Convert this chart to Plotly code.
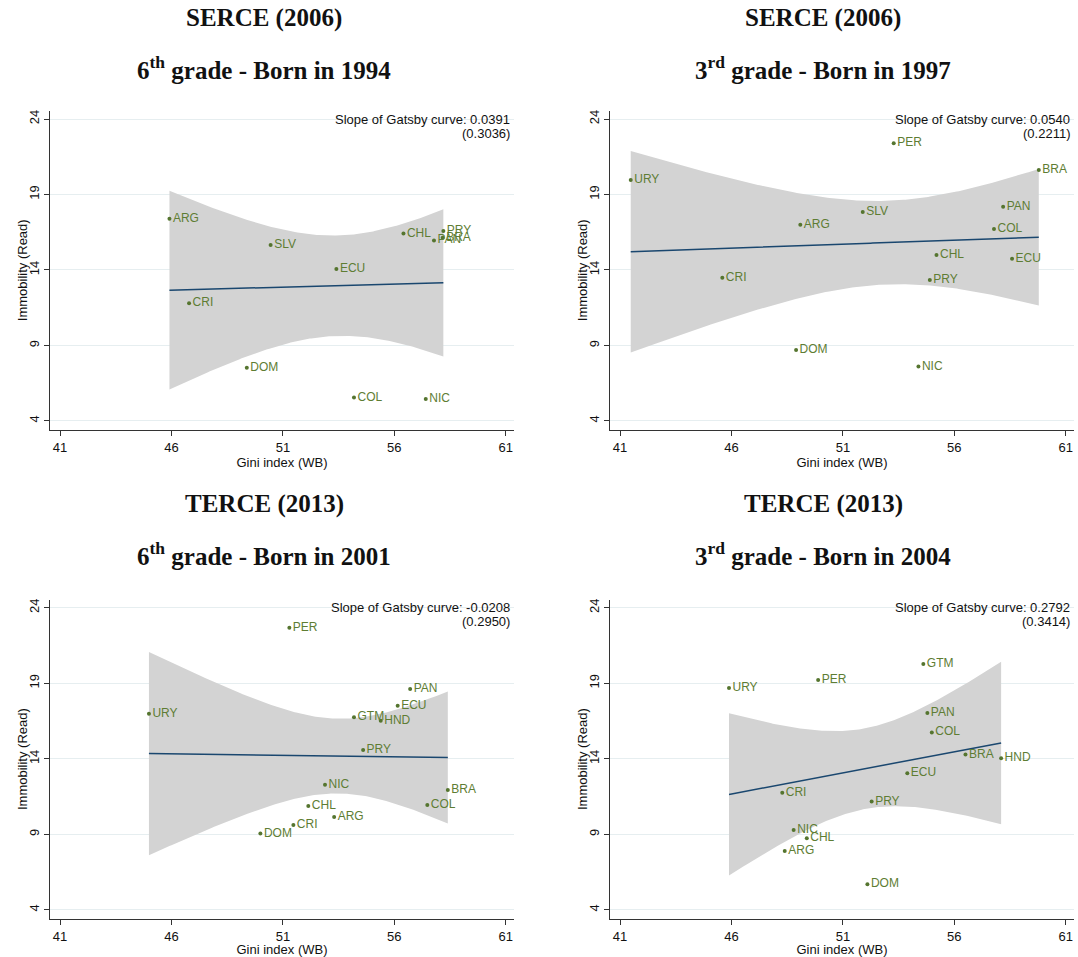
import numpy as np
import plotly.graph_objects as go

# ---------------- DATA ----------------
# Panel 1: SERCE (2006), 6th grade - born 1994
p1_country = ["ARG", "SLV", "CHL", "PRY", "BRA", "PAN", "ECU", "CRI", "DOM", "COL", "NIC"]
p1_gini = [45.91, 50.45, 56.41, 58.20, 58.17, 57.78, 53.40, 46.79, 49.38, 54.19, 57.41]
p1_immob = [17.40, 15.66, 16.41, 16.58, 16.14, 15.96, 14.07, 11.79, 7.53, 5.55, 5.46]

# Panel 2: SERCE (2006), 3rd grade - born 1997
p2_country = ["URY", "PER", "BRA", "PAN", "SLV", "ARG", "COL", "CHL", "ECU", "CRI", "PRY", "DOM", "NIC"]
p2_gini = [41.48, 53.28, 59.79, 58.19, 51.89, 49.09, 57.78, 55.20, 58.59, 45.59, 54.90, 48.90, 54.39]
p2_immob = [19.96, 22.39, 20.62, 18.19, 17.84, 17.00, 16.72, 14.99, 14.75, 13.49, 13.34, 8.70, 7.60]

# Panel 3: TERCE (2013), 6th grade - born 2001
p3_country = ["PER", "PAN", "ECU", "URY", "GTM", "HND", "PRY", "NIC", "BRA", "CHL", "COL", "ARG", "CRI", "DOM"]
p3_gini = [51.29, 56.71, 56.15, 44.99, 54.19, 55.39, 54.60, 52.89, 58.40, 52.14, 57.48, 53.30, 51.47, 49.99]
p3_immob = [22.68, 18.62, 17.52, 16.99, 16.75, 16.52, 14.58, 12.29, 11.94, 10.88, 10.95, 10.15, 9.62, 9.05]

# Panel 4: TERCE (2013), 3rd grade - born 2004
p4_country = ["GTM", "PER", "URY", "PAN", "COL", "BRA", "HND", "ECU", "CRI", "PRY", "NIC", "CHL", "ARG", "DOM"]
p4_gini = [54.61, 49.89, 45.89, 54.79, 54.99, 56.50, 58.10, 53.89, 48.28, 52.29, 48.79, 49.38, 48.39, 52.10]
p4_immob = [20.27, 19.21, 18.69, 17.03, 15.75, 14.28, 14.03, 13.04, 11.76, 11.17, 9.29, 8.74, 7.90, 5.70]

panel_survey = ["SERCE (2006)", "SERCE (2006)", "TERCE (2013)", "TERCE (2013)"]
panel_grade = ["6<sup>th</sup> grade - Born in 1994", "3<sup>rd</sup> grade - Born in 1997",
               "6<sup>th</sup> grade - Born in 2001", "3<sup>rd</sup> grade - Born in 2004"]
slope_text = ["0.0391", "0.0540", "-0.0208", "0.2792"]
se_text = ["(0.3036)", "(0.2211)", "(0.2950)", "(0.3414)"]

x_ticks = [41, 46, 51, 56, 61]
y_ticks = [4, 9, 14, 19, 24]

# t critical values (97.5%) by degrees of freedom
T975 = {9: 2.262, 10: 2.228, 11: 2.201, 12: 2.179, 13: 2.160}

# ---------------- LAYOUT GEOMETRY ----------------
W, H = 1078, 957
col_px = [(50, 514), (610, 1074)]
row_px = [(111, 430), (599.7, 919)]
ytitle_px = [22.7, 582.7]
title_x = [264, 823]
title_y1 = [18, 504]
title_y2 = [68, 554]

NAVY = "#1a476f"
GREEN = "#55752f"
BAND = "#d3d3d3"
GRID = "#e6eef0"
AXIS = "#333333"
SANS = "Liberation Sans, Arial, sans-serif"
SERIF = "Palatino Linotype, Book Antiqua, Liberation Serif, serif"

panels = [
    (p1_country, p1_gini, p1_immob),
    (p2_country, p2_gini, p2_immob),
    (p3_country, p3_gini, p3_immob),
    (p4_country, p4_gini, p4_immob),
]

fig = go.Figure()
annotations = []
layout_axes = {}

for i, (cty, gx, gy) in enumerate(panels):
    r, c = divmod(i, 2)
    k = i + 1
    xa = "x" if k == 1 else f"x{k}"
    ya = "y" if k == 1 else f"y{k}"
    x = np.array(gx, dtype=float)
    y = np.array(gy, dtype=float)
    n = len(x)
    xbar, ybar = x.mean(), y.mean()
    sxx = ((x - xbar) ** 2).sum()
    b = ((x - xbar) * (y - ybar)).sum() / sxx
    a = ybar - b * xbar
    resid = y - (a + b * x)
    s = np.sqrt((resid ** 2).sum() / (n - 2))
    xs = np.linspace(x.min(), x.max(), 200)
    yhat = a + b * xs
    se = s * np.sqrt(1.0 / n + (xs - xbar) ** 2 / sxx)
    t = T975[n - 2]
    lo, hi = yhat - t * se, yhat + t * se

    fig.add_trace(go.Scatter(
        x=np.concatenate([xs, xs[::-1]]), y=np.concatenate([hi, lo[::-1]]),
        fill="toself", fillcolor=BAND, line=dict(width=0), mode="lines",
        xaxis=xa, yaxis=ya, showlegend=False, hoverinfo="skip"))
    fig.add_trace(go.Scatter(
        x=xs, y=yhat, mode="lines", line=dict(color=NAVY, width=1.5),
        xaxis=xa, yaxis=ya, showlegend=False))
    fig.add_trace(go.Scatter(
        x=x, y=y, mode="markers+text", text=cty, textposition="middle right",
        marker=dict(color=GREEN, size=4),
        textfont=dict(family=SANS, size=12, color="#5e7d33"),
        xaxis=xa, yaxis=ya, showlegend=False, cliponaxis=False))

    x0, x1 = col_px[c]
    y0, y1 = row_px[r]
    xkey = "xaxis" if k == 1 else f"xaxis{k}"
    ykey = "yaxis" if k == 1 else f"yaxis{k}"
    layout_axes[xkey] = dict(
        domain=[x0 / W, x1 / W], anchor=ya, range=[40.55, 61.37],
        tickvals=x_ticks, ticktext=[str(v) for v in x_ticks],
        showgrid=False, zeroline=False, showline=True, linecolor=AXIS, linewidth=1,
        ticks="outside", ticklen=5, tickcolor=AXIS, tickwidth=1,
        tickfont=dict(family=SANS, size=13, color="#111111"),
        title=dict(text="Gini index (WB)", standoff=0,
                   font=dict(family=SANS, size=13, color="#111111")),
    )
    layout_axes[ykey] = dict(
        domain=[1 - y1 / H, 1 - y0 / H], anchor=xa, range=[3.4, 24.53],
        tickvals=y_ticks, ticktext=[str(v) for v in y_ticks], tickangle=-90,
        showgrid=True, gridcolor=GRID, gridwidth=1, zeroline=False,
        showline=True, linecolor=AXIS, linewidth=1,
        ticks="outside", ticklen=5, tickcolor=AXIS, tickwidth=1,
        tickfont=dict(family=SANS, size=13, color="#111111"),
    )
    # y-axis title
    annotations.append(dict(
        xref="paper", yref="paper", x=ytitle_px[c] / W, y=1 - (y0 + y1) / 2 / H,
        xanchor="center", yanchor="middle", textangle=-90, showarrow=False,
        text="Immobility (Read)", font=dict(family=SANS, size=13, color="#111111")))

    # slope annotations
    annotations.append(dict(
        xref=f"{xa} domain", yref=ya, x=0.995, y=24, xanchor="right", yanchor="middle",
        text=f"Slope of Gatsby curve: {slope_text[i]}", showarrow=False,
        font=dict(family=SANS, size=13, color="#111111")))
    annotations.append(dict(
        xref=f"{xa} domain", yref=ya, x=0.995, y=24, yshift=-14, xanchor="right", yanchor="middle",
        text=se_text[i], showarrow=False,
        font=dict(family=SANS, size=13, color="#111111")))
    # titles
    annotations.append(dict(
        xref="paper", yref="paper", x=title_x[c] / W, y=1 - title_y1[r] / H,
        xanchor="center", yanchor="middle", showarrow=False,
        text=f"<b>{panel_survey[i]}</b>",
        font=dict(family=SERIF, size=25, color="#111111")))
    annotations.append(dict(
        xref="paper", yref="paper", x=title_x[c] / W, y=1 - title_y2[r] / H,
        xanchor="center", yanchor="middle", showarrow=False,
        text=f"<b>{panel_grade[i]}</b>",
        font=dict(family=SERIF, size=25, color="#111111")))

fig.update_layout(
    width=W, height=H, margin=dict(l=0, r=0, t=0, b=0),
    paper_bgcolor="white", plot_bgcolor="white",
    annotations=annotations, showlegend=False,
    **layout_axes,
)

fig.write_html("out.html")
